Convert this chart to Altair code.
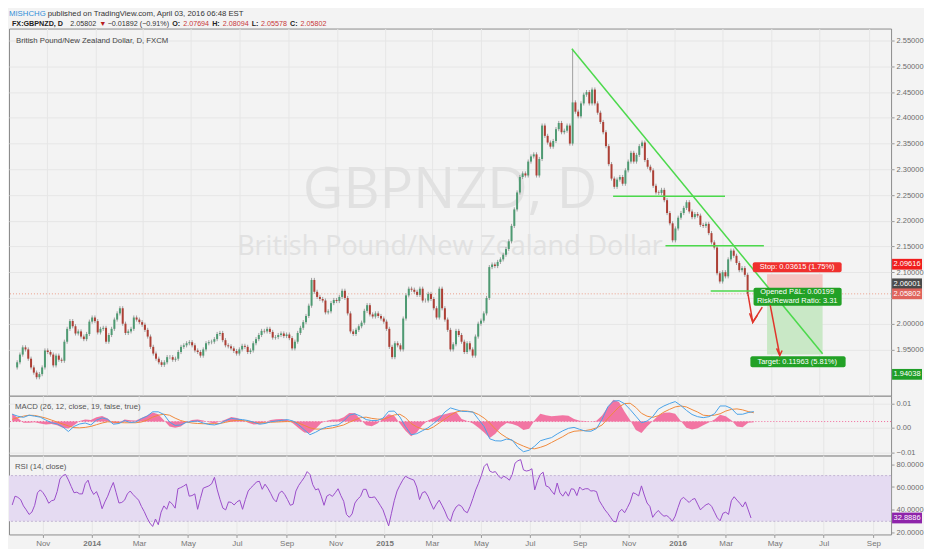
import altair as alt
import numpy as np
import pandas as pd

# --- layout / style -------------------------------------------------------
W = 884
H_MAIN, H_MACD, H_RSI = 368, 60, 79
BG = "#f3f3f3"
FONT = "Liberation Sans, Arial, sans-serif"
WM_FONT = "Open Sans"
UP, DOWN, WICK_COLOR = "#4e9a72", "#ad3f35", "#8a8a8a"
DRAW_GREEN, DRAW_RED = "#4cd94c", "#e0352b"

# --- price: two bars per week starting 2013-09-24 ----
BAR_START = "2013-09-24"
FIRST_OPEN = 1.915
CLOSE = [
    1.925, 1.940, 1.954, 1.950, 1.932, 1.915, 1.905, 1.896, 1.902, 1.915,
    1.948, 1.945, 1.940, 1.919, 1.938, 1.930, 1.928, 1.965, 1.990, 2.005,
    1.995, 1.981, 1.985, 1.975, 1.970, 1.980, 2.004, 2.012, 2.005, 1.983,
    1.990, 1.992, 1.965, 1.978, 1.990, 2.008, 2.020, 2.030, 2.000, 1.982,
    1.985, 1.990, 2.012, 2.008, 2.003, 1.998, 1.988, 1.975, 1.955, 1.942,
    1.932, 1.925, 1.920, 1.925, 1.935, 1.935, 1.930, 1.932, 1.945, 1.955,
    1.958, 1.962, 1.964, 1.958, 1.948, 1.945, 1.938, 1.950, 1.962, 1.964,
    1.965, 1.970, 1.980, 1.982, 1.968, 1.958, 1.956, 1.952, 1.947, 1.942,
    1.950, 1.957, 1.955, 1.945, 1.948, 1.962, 1.970, 1.978, 1.986, 1.985,
    1.990, 1.984, 1.973, 1.974, 1.978, 1.981, 1.976, 1.979, 1.972, 1.952,
    1.965, 1.982, 1.992, 2.003, 2.015, 2.035, 2.085, 2.062, 2.052, 2.048,
    2.045, 2.022, 2.024, 2.040, 2.046, 2.044, 2.052, 2.064, 2.050, 2.020,
    1.985, 1.980, 1.988, 1.995, 2.002, 2.025, 2.036, 2.018, 2.014, 2.020,
    2.015, 2.010, 2.004, 1.990, 1.955, 1.935, 1.962, 1.958, 1.950, 2.010,
    2.055, 2.068, 2.066, 2.062, 2.056, 2.068, 2.045, 2.045, 2.058, 2.048,
    2.030, 2.012, 2.068, 2.030, 2.008, 1.988, 1.950, 1.960, 1.986, 1.978,
    1.965, 1.945, 1.962, 1.950, 1.938, 1.975, 2.000, 2.006, 2.020, 2.050,
    2.110, 2.115, 2.112, 2.120, 2.125, 2.134, 2.145, 2.160, 2.190, 2.222,
    2.255, 2.285, 2.292, 2.288, 2.315, 2.325, 2.329, 2.288, 2.320, 2.385,
    2.365, 2.352, 2.344, 2.355, 2.378, 2.390, 2.372, 2.375, 2.385, 2.350,
    2.430, 2.412, 2.403, 2.428, 2.445, 2.450, 2.428, 2.455, 2.428, 2.410,
    2.392, 2.372, 2.345, 2.310, 2.282, 2.266, 2.280, 2.285, 2.272, 2.298,
    2.315, 2.332, 2.315, 2.328, 2.345, 2.352, 2.318, 2.305, 2.298, 2.268,
    2.255, 2.254, 2.260, 2.240, 2.215, 2.195, 2.162, 2.185, 2.206, 2.215,
    2.225, 2.236, 2.218, 2.207, 2.213, 2.210, 2.192, 2.190, 2.194, 2.176,
    2.158, 2.148, 2.098, 2.082, 2.100, 2.092, 2.125, 2.142, 2.132, 2.118,
    2.104, 2.108, 2.095, 2.058,
]
WICK = 0.004
SPIKE_BAR, SPIKE_HIGH = 200, 2.534

RSI = [
    44.3, 52, 51, 49, 43.5, 40, 36, 38, 44, 55,
    57.5, 55, 51, 45.8, 48, 48.7, 56, 67, 70, 71,
    66.2, 60.5, 55, 55.5, 54, 54, 63, 66, 58, 53.5,
    56, 50, 41, 47, 52, 58.5, 64, 55, 46, 46.5,
    48.5, 54, 56.5, 53.5, 51, 48.5, 43, 38.5, 33, 28.5,
    25.5, 32, 27, 38, 43.5, 40.5, 47.5, 45, 41.5, 58.5,
    59.5, 60.8, 62.5, 52, 52.5, 54, 40.5, 50, 59, 60,
    61, 62.8, 68.5, 57.5, 49, 41.5, 40, 47, 46.5, 44.3,
    47, 48.5, 40.5, 49, 56.5, 59.5, 61.8, 64.5, 65, 58,
    62.5, 59, 54.5, 49.5, 47, 54.5, 56.5, 53.5, 49, 44,
    45, 56.5, 61.5, 65, 68.5, 73.5, 71, 62, 57.5, 58.5,
    52, 44, 52, 53.5, 51.8, 55, 58.5, 52.5, 47.5, 36,
    33.5, 36.5, 46, 49.5, 51.8, 58, 58, 51, 50.8, 51.4,
    48, 44, 40, 33, 26, 37, 48, 56.5, 61.5, 66,
    69.5, 68, 67, 66, 60, 49, 55, 56, 52, 46,
    40.5, 45, 48.5, 44, 39, 33, 30, 38, 42.5, 44.5,
    43, 39, 37.5, 43, 50, 57.5, 63.3, 70, 78, 80.5,
    74, 72.8, 73.5, 70, 67.5, 69.5, 68, 66, 71, 80.9,
    83, 84, 75, 74, 74.5, 76, 57.5, 65.5, 71, 73,
    61, 60, 56.5, 53.5, 63.5, 55, 52, 56, 52, 58.5,
    58, 52.5, 60, 57.5, 58.5, 58.5, 56.5, 56.8, 56, 48,
    44, 40, 37, 33.5, 30, 29.5, 38, 40.5, 37.5, 42,
    47, 55, 54, 52.2, 61, 53, 46, 43, 33.5, 37,
    39.5, 36.5, 34.5, 35, 33, 30, 34.5, 42, 49, 51,
    48.5, 46.5, 49, 50, 45, 40, 42.5, 44.5, 45.5, 43,
    38, 33, 30.5, 37, 38, 36, 48, 51.5, 48.5, 45.8,
    42.5, 47, 40, 32.9,
]

# --- MACD, weekly samples, in thousandths ---------------------------------
MACD_E3 = [
    5.6, 4.8, 4.3, 5.2, 4.8, 4.4, 3.2, 2.1, 1.6, 0.4,
    -1.5, 0.6, 1.6, 2.0, 1.2, 3.2, 4.1, 3.5, 1.5, 1.8,
    3.0, 2.2, 2.4, 3.8, 4.8, 6.6, 6.6, 5.5, 2.4, 1.0,
    1.2, 2.3, 2.6, 2.8, 2.0, 1.4, 1.2, 1.8, 3.0, 3.9,
    3.6, 3.4, 3.0, 2.3, 1.5, 1.8, 2.5, 2.8, 3.1, 3.4,
    2.8, 1.2, -0.8, -2.8, -1.8, -0.5, 0.4, 0.9, 1.2, 2.8,
    5.2, 5.8, 4.8, 3.4, 3.0, 3.0, 4.0, 6.8, 6.9, 4.5,
    0.5, -2.8, -2.4, -1.2, 0.0, 1.8, 3.6, 6.5, 8.2, 7.5,
    6.8, 6.7, 6.5, 3.5, 0.5, -4.5, -5.3, -5.4, -4.6, -5.0,
    -8.0, -9.8, -9.2, -7.5, -5.3, -4.6, -4.0, -2.5, -1.2, -0.2,
    0.2, -0.6, -1.3, -1.4, -0.3, 3.5, 8.6, 11.0, 11.2, 9.9,
    7.5, 4.8, 2.1, 2.8, 4.6, 7.7, 9.0, 10.0, 10.8, 9.2,
    7.2, 5.5, 4.6, 4.2, 4.6, 5.8, 9.0, 9.0, 8.0, 5.6,
    5.6, 6.3, 6.7,
]
SIGNAL_E3 = [
    3.5, 4.2, 4.8, 5.2, 5.1, 4.6, 4.0, 3.2, 2.4, 1.6,
    0.8, 0.1, 0.0, 0.2, 0.6, 1.3, 2.0, 2.5, 2.4, 2.2,
    2.1, 2.1, 2.1, 2.4, 3.2, 4.4, 5.2, 5.6, 5.2, 4.0,
    3.0, 2.4, 2.0, 1.8, 1.7, 1.7, 1.7, 1.8, 2.3, 2.8,
    3.1, 3.0, 2.7, 2.2, 2.0, 2.1, 2.3, 2.4, 2.5, 2.6,
    2.5, 2.0, 1.0, 0.0, -0.5, -0.5, -0.3, 0.0, 0.6, 1.2,
    2.3, 3.3, 4.2, 4.4, 3.9, 3.6, 3.5, 4.3, 5.3, 5.6,
    4.2, 1.8, 0.4, -0.5, -0.7, 0.4, 2.0, 3.6, 5.2, 6.5,
    7.0, 6.9, 6.5, 5.5, 4.0, 2.0, -0.5, -2.5, -4.0, -5.2,
    -6.5, -7.5, -8.4, -8.6, -8.0, -7.2, -6.0, -4.8, -3.6, -2.2,
    -1.4, -1.2, -1.1, -0.7, 0.0, 1.2, 3.8, 6.2, 8.6, 10.0,
    10.1, 8.4, 6.0, 4.8, 4.3, 5.0, 6.5, 7.6, 8.6, 9.0,
    8.6, 7.5, 6.5, 5.2, 5.0, 5.2, 5.8, 6.9, 7.6, 7.8,
    7.4, 6.7, 6.2,
]
HIST_E3 = [
    3.3, 1.5, -0.5, -0.5, -0.3, -0.8, -1.2, -1.0, -1.5, -2.5,
    -2.9, -1.5, 0.2, 0.8, 0.6, 1.8, 2.3, 1.2, -0.8, -0.6,
    0.8, 0.5, 0.4, 1.5, 2.5, 3.7, 3.0, 0.5, -2.0, -2.5,
    -2.0, -0.3, 0.6, 0.8, 0.4, -0.3, -0.8, 0.0, 0.8, 1.9,
    1.5, 0.6, -0.5, -1.2, -1.0, -0.3, 0.6, 0.9, 1.0, 0.7,
    -0.8, -2.8, -4.5, -4.7, -3.0, -0.6, 0.3, 0.8, 0.8, 1.8,
    3.5, 3.4, 0.8, -1.5, -1.9, -0.8, 1.2, 3.0, 2.4, -0.8,
    -3.8, -6.0, -4.5, -1.5, 0.4, 1.5, 2.5, 3.0, 3.6, 4.0,
    1.0, 0.2, -0.8, -2.5, -4.5, -6.8, -5.0, -2.2, -0.6, -1.0,
    -1.8, -3.5, -3.0, 0.5, 3.2, 2.6, 2.2, 2.4, 2.6, 2.4,
    1.0, 0.3, 0.2, 0.0, 0.3, 2.5, 6.0, 9.0, 8.0, 4.0,
    0.5, -3.5, -4.7, -2.0, 0.2, 2.5, 3.6, 3.7, 3.2, 0.2,
    -2.5, -3.3, -2.8, -1.5, -0.4, 0.8, 2.8, 2.2, 0.5, -2.0,
    -2.3, -0.5, -0.3,
]
HIST_BASE = 0.0026  # histogram baseline sits a little above the MACD zero line

# --- axes -------------------------------------------------------------------
PRICE_TICKS = [1.95, 2.00, 2.05, 2.10, 2.15, 2.20, 2.25, 2.30, 2.35, 2.40, 2.45, 2.50, 2.55]
PRICE_HIDDEN = 2.05  # label sits under the last-price badge
MACD_TICKS = [-0.01, 0.0, 0.01]
RSI_TICKS = [20, 40, 60, 80]
TICK_MONTHS = [(2013, 11), (2014, 1), (2014, 3), (2014, 5), (2014, 7), (2014, 9), (2014, 11),
               (2015, 1), (2015, 3), (2015, 5), (2015, 7), (2015, 9), (2015, 11),
               (2016, 1), (2016, 3), (2016, 5), (2016, 7), (2016, 9)]

# --- drawings on the chart --------------------------------------------------
LAST = 2.05802
ENTRY, STOP, TARGET = 2.06001, 2.09616, 1.94038
POS_START, POS_END = "2016-04-26", "2016-07-05"
GREEN_LINES = [
    ("2015-08-24", 2.5344, "2016-07-05", 1.9416),
    ("2015-10-15", 2.2477, "2016-03-04", 2.2477),
    ("2015-12-20", 2.1513, "2016-04-22", 2.1513),
    ("2016-02-15", 2.0634, "2016-04-22", 2.0634),
]
RED_PATHS = [
    [("2016-04-02", 2.0575), ("2016-04-08", 2.0028), ("2016-04-20", 2.0321)],
    [("2016-04-04", 2.0204), ("2016-04-08", 2.0028), ("2016-04-14", 2.0165)],
    [("2016-04-30", 2.0360), ("2016-05-12", 1.9383)],
    [("2016-05-08", 1.9520), ("2016-05-12", 1.9383), ("2016-05-15", 1.9480)],
]
LABEL_BOXES = [  # start, end, top, bottom, fill
    ("2016-04-08", "2016-07-29", 2.1195, 2.1000, "#f0302e"),
    ("2016-04-09", "2016-07-29", 2.0698, 2.0347, "#22a126"),
    ("2016-04-05", "2016-08-03", 1.9369, 1.9155, "#22a126"),
]
LABEL_TEXTS = [
    ("2016-06-03", 2.1097, "Stop: 0.03615 (1.75%)"),
    ("2016-06-03", 2.0609, "Opened P&L: 0.00199"),
    ("2016-06-03", 2.0445, "Risk/Reward Ratio: 3.31"),
    ("2016-06-03", 1.9262, "Target: 0.11963 (5.81%)"),
]
BADGES = [(STOP, "#f01e1e"), (ENTRY, "#4a4a4a"), (LAST, "#e0645c"), (TARGET, "#1f9e28")]
BADGE_NUDGE = [-10, -9, 0, 20]

HEADER_1 = [("MISHCHG", "#2f8fd8", "normal"),
            ("published on TradingView.com, April 03, 2016 06:48 EST", "#333", "normal")]
HEADER_2 = [("FX:GBPNZD, D", "#222", "bold"), ("2.05802", "#333", "normal"),
            ("▼", "#b71c1c", "normal"), ("−0.01892 (−0.91%)", "#333", "normal"),
            ("O:", "#222", "bold"), ("2.07694", "#c8383a", "normal"),
            ("H:", "#222", "bold"), ("2.08094", "#c8383a", "normal"),
            ("L:", "#222", "bold"), ("2.05578", "#c8383a", "normal"),
            ("C:", "#222", "bold"), ("2.05802", "#c8383a", "normal")]

# rough Arial advance widths (em) for laying out the header runs
_ADV = {".": .278, ",": .278, ":": .278, " ": .278, "(": .333, ")": .333, "%": .889,
        "−": .584, "▼": .75, "I": .278, "M": .833, "O": .778, "G": .778, "l": .222,
        "i": .222, "r": .333, "t": .278, "f": .278, "j": .222, "w": .722, "m": .833,
        "T": .611, "V": .667, "A": .667, "E": .667, "S": .667, "L": .556, "F": .611}


def run_width(s, size, bold=False):
    w = sum(_ADV.get(ch, .72 if ch.isupper() else .556) for ch in s)
    return w * size * (1.06 if bold else 1.0)


# --- data frames --------------------------------------------------------------
n = len(CLOSE)
bars = pd.DataFrame({
    "date": pd.Timestamp(BAR_START) + pd.to_timedelta(np.arange(n) * 3.5, unit="D"),
    "open": [FIRST_OPEN] + CLOSE[:-1],
    "close": CLOSE,
    "rsi": RSI,
})
bars["high"] = bars[["open", "close"]].max(axis=1) + WICK
bars["low"] = bars[["open", "close"]].min(axis=1) - WICK
bars.loc[SPIKE_BAR, "high"] = SPIKE_HIGH
bars["dir"] = np.where(bars["close"] >= bars["open"], "up", "down")

weekly = pd.DataFrame({
    "date": pd.Timestamp(BAR_START) + pd.to_timedelta(np.arange(len(MACD_E3)) * 7, unit="D"),
    "macd": np.array(MACD_E3) / 1000,
    "signal": np.array(SIGNAL_E3) / 1000,
    "hist": np.array(HIST_E3) / 1000 + HIST_BASE,
})

green_df = pd.DataFrame(
    [{"id": i, "date": d, "p": p} for i, (d0, p0, d1, p1) in enumerate(GREEN_LINES)
     for d, p in ((d0, p0), (d1, p1))])
red_df = pd.DataFrame(
    [{"id": i, "seq": j, "date": d, "p": p} for i, path in enumerate(RED_PATHS)
     for j, (d, p) in enumerate(path)])
box_df = pd.DataFrame(LABEL_BOXES, columns=["start", "end", "top", "bot", "fill"])
txt_df = pd.DataFrame(LABEL_TEXTS, columns=["date", "p", "t"])

# --- scales / encodings -------------------------------------------------------
xscale = alt.Scale(domain=[alt.DateTime(year=2013, month=9, date=20),
                           alt.DateTime(year=2016, month=9, date=23)])
ticks = [alt.DateTime(year=y, month=m, date=1) for y, m in TICK_MONTHS]
grid_x = alt.Axis(values=ticks, labels=False, ticks=False, domain=False, grid=True, title=None)
bottom_x = alt.Axis(
    values=ticks, grid=True, domain=False, title=None, tickSize=3, labelPadding=2,
    labelFontSize=8, labelColor="#777",
    labelExpr="month(datum.value) == 0 ? timeFormat(datum.value, '%Y') : timeFormat(datum.value, '%b')",
    labelFontWeight={"condition": {"test": "month(datum.value) == 0", "value": "bold"},
                     "value": "normal"},
)

pscale = alt.Scale(domain=[1.860, 2.5735], nice=False, zero=False)
paxis = alt.Axis(
    orient="right", values=PRICE_TICKS, grid=True, tickSize=3, labelPadding=2, title=None,
    labelExpr=f"abs(datum.value - {PRICE_HIDDEN}) < 0.001 ? '' : format(datum.value, '.5f')")


def xT(field, axis=grid_x):
    return alt.X(field, scale=xscale, axis=axis, title=None)


def yP(field):
    return alt.Y(field, scale=pscale, axis=paxis, title=None)


def note(text, x, y, size=8, color="#444", weight="normal", align="left",
         baseline="alphabetic", font=FONT):
    return alt.Chart(pd.DataFrame({"t": [text]})).mark_text(
        align=align, baseline=baseline, fontSize=size, color=color, fontWeight=weight, font=font
    ).encode(x=alt.value(x), y=alt.value(y), text="t:N")


def header_runs(runs, x0, y, size, gap):
    out, x = [], x0
    for text, color, weight in runs:
        out.append(note(text, x, y, size=size, color=color, weight=weight))
        x += run_width(text, size, weight == "bold") + gap
    return out


# --- main price panel -----------------------------------------------------------
layers = [
    note("GBPNZD, D", W / 2, 163, size=56, color="#e1e1e1", align="center",
         baseline="middle", font=WM_FONT),
    note("British Pound/New Zealand Dollar", W / 2, 219, size=27, color="#e1e1e1",
         align="center", baseline="middle", font=WM_FONT),
    alt.Chart(pd.DataFrame({"p": [LAST]})).mark_rule(
        color="#eba08c", strokeDash=[1, 2], strokeWidth=1).encode(y=yP("p:Q")),
]
zone = pd.DataFrame({"start": [POS_START], "end": [POS_END], "stop": [STOP],
                     "entry": [ENTRY], "target": [TARGET]})
layers += [
    alt.Chart(zone).mark_rect(color="#f5c5c3").encode(
        x=xT("start:T"), x2="end:T", y=yP("entry:Q"), y2="stop:Q"),
    alt.Chart(zone).mark_rect(color="#c9e8c6").encode(
        x=xT("start:T"), x2="end:T", y=yP("target:Q"), y2="entry:Q"),
    alt.Chart(bars).mark_rule(color=WICK_COLOR, strokeWidth=0.8).encode(
        x=xT("date:T"), y=yP("low:Q"), y2="high:Q"),
    alt.Chart(bars).mark_bar(size=2, orient="vertical").encode(
        x=xT("date:T"), y=yP("open:Q"), y2="close:Q",
        color=alt.Color("dir:N", scale=alt.Scale(domain=["up", "down"], range=[UP, DOWN]),
                        legend=None)),
    alt.Chart(green_df).mark_line(color=DRAW_GREEN, strokeWidth=1.5).encode(
        x=xT("date:T"), y=yP("p:Q"), detail="id:N"),
    alt.Chart(box_df).mark_rect(cornerRadius=2).encode(
        x=xT("start:T"), x2="end:T", y=yP("top:Q"), y2="bot:Q",
        color=alt.Color("fill:N", scale=None)),
    alt.Chart(txt_df).mark_text(color="white", fontSize=7.5, font=FONT).encode(
        x=xT("date:T"), y=yP("p:Q"), text="t:N"),
    alt.Chart(red_df).mark_line(color=DRAW_RED, strokeWidth=1.5).encode(
        x=xT("date:T"), y=yP("p:Q"), detail="id:N", order="seq:Q"),
]
BOX = "M-1,-0.36H1V0.36H-1Z"
for (price, col), nudge in zip(BADGES, BADGE_NUDGE):
    bd = pd.DataFrame({"p": [price], "t": [f"{price:.5f}"]})
    layers.append(alt.Chart(bd).mark_point(
        shape=BOX, size=900, filled=True, color=col, opacity=1, strokeWidth=0, yOffset=nudge
    ).encode(x=alt.value(W + 16), y=yP("p:Q")))
    layers.append(alt.Chart(bd).mark_text(
        color="white", fontSize=7.5, font=FONT, yOffset=nudge
    ).encode(x=alt.value(W + 16), y=yP("p:Q"), text="t:N"))

layers.append(note("British Pound/New Zealand Dollar, D, FXCM", 7, 12, size=7.8,
                   baseline="middle"))
layers += header_runs(HEADER_1, 0, -13, 7.8, 2)
layers += header_runs(HEADER_2, 3, -3, 7.2, 3)
main = alt.layer(*layers).properties(width=W, height=H_MAIN)

# --- MACD panel -------------------------------------------------------------------
mscale = alt.Scale(domain=[-0.0114, 0.0132], nice=False, zero=False)
maxis = alt.Axis(orient="right", values=MACD_TICKS, format=".2f", grid=True, tickSize=3,
                 labelPadding=2, title=None)


def yM(field):
    return alt.Y(field, scale=mscale, axis=maxis, title=None)


macd = alt.layer(
    alt.Chart(weekly).mark_area(color="#f2679a", opacity=0.9).encode(
        x=xT("date:T"), y=yM("hist:Q"), y2=alt.datum(HIST_BASE)),
    alt.Chart(pd.DataFrame({"b": [HIST_BASE]})).mark_rule(
        color="#f2679a", strokeDash=[1, 2]).encode(y=yM("b:Q")),
    alt.Chart(weekly).mark_line(color="#f08a3c", strokeWidth=1).encode(
        x=xT("date:T"), y=yM("signal:Q")),
    alt.Chart(weekly).mark_line(color="#4aa3e8", strokeWidth=1).encode(
        x=xT("date:T"), y=yM("macd:Q")),
    note("MACD (26, 12, close, 19, false, true)", 6, 13, size=7.8, color="#555"),
).properties(width=W, height=H_MACD)

# --- RSI panel ----------------------------------------------------------------------
rscale = alt.Scale(domain=[18.5, 87.5], nice=False, zero=False)
raxis = alt.Axis(orient="right", values=RSI_TICKS, format=".4f", grid=False, tickSize=3,
                 labelPadding=2, title=None)


def yR(field):
    return alt.Y(field, scale=rscale, axis=raxis, title=None)


levels = pd.DataFrame({"lvl": [30, 70]})
rsi_last = pd.DataFrame({"p": [RSI[-1]], "t": ["32.8886"]})
rsi = alt.layer(
    alt.Chart(pd.DataFrame({"lo": [30], "hi": [70]})).mark_rect(color="#e5dbf2").encode(
        x=alt.value(0), x2=alt.value(W), y=yR("lo:Q"), y2="hi:Q"),
    alt.Chart(levels).mark_rule(color="#b8a8cc", strokeDash=[2, 2], strokeWidth=0.8).encode(
        y=yR("lvl:Q")),
    alt.Chart(bars).mark_line(color="#9b4dca", strokeWidth=1).encode(
        x=xT("date:T", bottom_x), y=yR("rsi:Q")),
    note("RSI (14, close)", 6, 13, size=7.8, color="#555"),
    alt.Chart(rsi_last).mark_point(shape=BOX, size=900, filled=True, color="#8e24aa",
                                   opacity=1, strokeWidth=0).encode(
        x=alt.value(W + 16), y=yR("p:Q")),
    alt.Chart(rsi_last).mark_text(color="white", fontSize=7.5, font=FONT).encode(
        x=alt.value(W + 16), y=yR("p:Q"), text="t:N"),
).properties(width=W, height=H_RSI)

chart = (
    alt.vconcat(main, macd, rsi, spacing=0, bounds="flush")
    .properties(padding={"left": 0, "top": 0, "right": 0, "bottom": 0}, background=BG)
    .configure_view(stroke="#8c8c8c", strokeWidth=1, fill=BG)
    .configure_axis(labelFont=FONT, labelFontSize=7.5, labelColor="#6b6b6b",
                    tickColor="#9a9a9a", gridColor="#e6e6e6", domain=False)
)

chart.save("out.html", embed_options={"renderer": "svg", "actions": False})
